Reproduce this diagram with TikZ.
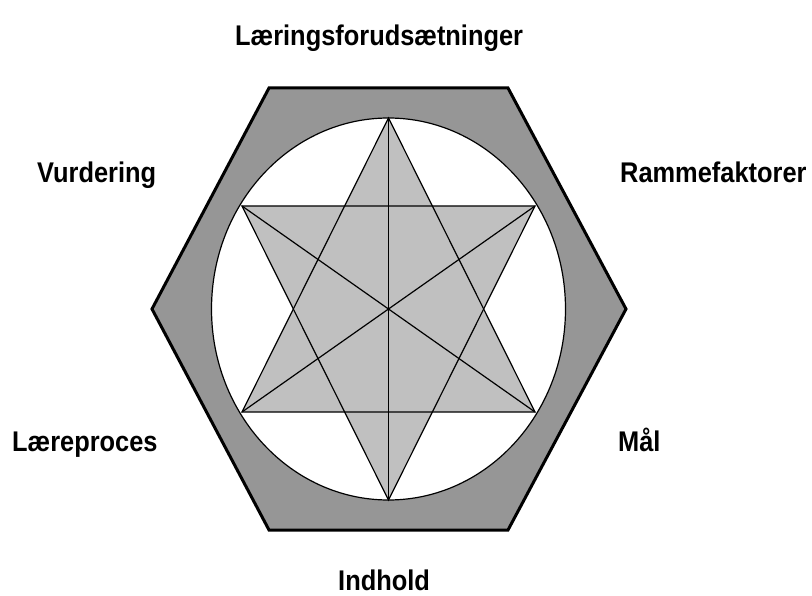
\documentclass[tikz,border=0pt]{standalone}
\usepackage{graphicx}
\usepackage{fontspec}
\setmainfont{Liberation Sans}
\usetikzlibrary{positioning}
\definecolor{hexgray}{RGB}{150,150,150}
\definecolor{stargray}{RGB}{192,192,192}
\tikzstyle{lbl}=[font=\fontsize{25.4}{30}\selectfont\bfseries, inner sep=0pt, anchor=base west]
\tikzstyle{hexline}=[draw, line width=3pt, fill=hexgray, line join=miter]
\tikzstyle{ring}=[draw, line width=1.2pt, fill=white]
\tikzstyle{starline}=[line width=1.2pt, line join=miter]
\newcommand{\tall}[1]{\scalebox{1}[1.12]{#1}}

\begin{document}
\begin{tikzpicture}[x=1pt,y=-1pt]
    \useasboundingbox (0,0) rectangle (812,596);
    % frame and circle
    \path[hexline] (269,88) -- (508,88) -- (626,309) -- (508,530) -- (269,530) -- (152,309) -- cycle;
    \path[ring] (388.5,309) ellipse [x radius=177, y radius=191];
    % star points
    \coordinate (t) at (388.5,118);
    \coordinate (b) at (388.5,500);
    \coordinate (ul) at (242,206);
    \coordinate (ur) at (535,206);
    \coordinate (ll) at (242,412);
    \coordinate (lr) at (535,412);
    \fill[stargray] (t) -- (ll) -- (lr) -- cycle;
    \fill[stargray] (b) -- (ul) -- (ur) -- cycle;
    \draw[starline] (t) -- (ll) -- (lr) -- cycle;
    \draw[starline] (b) -- (ul) -- (ur) -- cycle;
    \draw[starline] (t) -- (b);
    \draw[starline] (ul) -- (lr);
    \draw[starline] (ur) -- (ll);
    % labels
    \node[lbl] (forud) at (235,46) {\tall{Læringsforudsætninger}};
    \node[lbl] (vurd) at (37,183) {\tall{Vurdering}};
    \node[lbl] (ramme) at (620,183) {\tall{Rammefaktorer}};
    \node[lbl] (proces) at (12,451) {\tall{Læreproces}};
    \node[lbl] (maal) at (618,451) {\tall{Mål}};
    \node[lbl] (indhold) at (338,590) {\tall{Indhold}};
\end{tikzpicture}
\end{document}
